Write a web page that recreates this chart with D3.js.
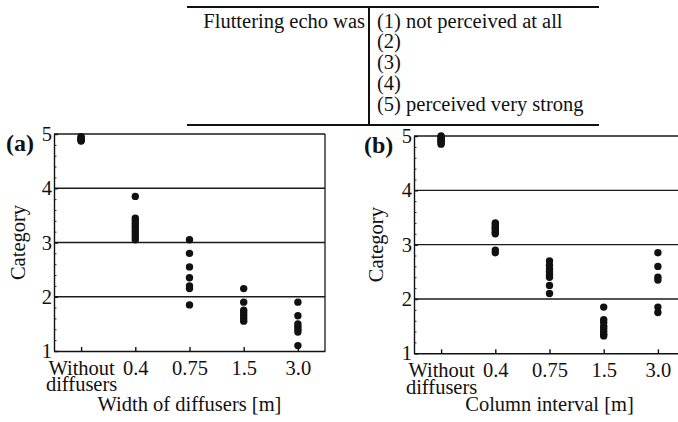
<!DOCTYPE html>
<html><head><meta charset="utf-8">
<script src="https://cdn.jsdelivr.net/npm/d3@7"></script>
<style>body{margin:0;background:#fff} svg text{font-family:"Liberation Serif","Times New Roman",serif}</style>
</head><body><svg id="c" width="678" height="422"></svg>
<script>
// ---- data ----
const categories = ["Without diffusers", "0.4", "0.75", "1.5", "3.0"];
const categoryLines = [["Without", "diffusers"], ["0.4"], ["0.75"], ["1.5"], ["3.0"]];
const yTicks = [1, 2, 3, 4, 5];
const minorTicks = [1.2, 1.4, 1.6, 1.8, 2.2, 2.4, 2.6, 2.8, 3.2, 3.4, 3.6, 3.8, 4.2, 4.4, 4.6, 4.8];
const gridValues = [2, 3, 4, 5];
// (a) Width of diffusers: one list of category scores per condition
const widthScores = [
  [4.95, 4.93, 4.91, 4.9, 4.88, 4.87],
  [3.85, 3.45, 3.4, 3.35, 3.3, 3.25, 3.2, 3.15, 3.1, 3.05],
  [3.05, 2.8, 2.55, 2.35, 2.2, 2.15, 1.85],
  [2.15, 1.9, 1.75, 1.7, 1.65, 1.6, 1.55],
  [1.9, 1.65, 1.5, 1.45, 1.4, 1.35, 1.1]
];
// (b) Column interval
const intervalScores = [
  [5.0, 4.97, 4.95, 4.92, 4.9, 4.87, 4.85],
  [3.4, 3.37, 3.33, 3.3, 3.27, 3.23, 3.2, 2.9, 2.85],
  [2.7, 2.62, 2.55, 2.5, 2.45, 2.4, 2.25, 2.1],
  [1.85, 1.62, 1.57, 1.5, 1.45, 1.4, 1.35, 1.32],
  [2.85, 2.6, 2.4, 2.35, 1.85, 1.75]
];
const legendLead = "Fluttering echo was";
const legendLines = ["(1) not perceived at all", "(2)", "(3)", "(4)", "(5) perceived very strong"];
const panelLabels = ["(a)", "(b)"];
const axisTitles = ["Width of diffusers [m]", "Column interval [m]"];

// ---- layout ----
const svg = d3.select("#c");
const FS = 20.5;
const ink = "#111";

// legend table
const tbl = svg.append("g");
tbl.append("line").attr("x1", 187).attr("x2", 599).attr("y1", 7).attr("y2", 7).attr("stroke", ink).attr("stroke-width", 2);
tbl.append("line").attr("x1", 187).attr("x2", 599).attr("y1", 125).attr("y2", 125).attr("stroke", ink).attr("stroke-width", 2);
tbl.append("line").attr("x1", 369).attr("x2", 369).attr("y1", 7).attr("y2", 125).attr("stroke", ink).attr("stroke-width", 2);
tbl.append("text").attr("x", 365).attr("y", 27.5).attr("text-anchor", "end").attr("font-size", FS).attr("fill", ink).text(legendLead);
tbl.selectAll("text.ll").data(legendLines).join("text").attr("class", "ll")
  .attr("x", 377).attr("y", (d, i) => 27.5 + i * 20.8).attr("font-size", FS).attr("fill", ink).text(d => d);

const panels = [
  { data: widthScores, x0: 54, x1: 325, y0: 134, y1: 351, labX: 6, labY: 151, catX: 25 },
  { data: intervalScores, x0: 414, x1: 685, y0: 136, y1: 353.3, labX: 364, labY: 153, catX: 383 }
];

panels.forEach((p, pi) => {
  const x = d3.scalePoint().domain(categories).range([p.x0, p.x1]).padding(0.5);
  const y = d3.scaleLinear().domain([1, 5]).range([p.y1, p.y0]);
  const g = svg.append("g");

  // grid lines
  g.selectAll("line.grid").data(gridValues).join("line").attr("class", "grid")
    .attr("x1", p.x0).attr("x2", p.x1).attr("y1", d => y(d)).attr("y2", d => y(d))
    .attr("stroke", "#1a1a1a").attr("stroke-width", 1.3);
  // right border
  g.append("line").attr("x1", p.x1).attr("x2", p.x1).attr("y1", p.y0).attr("y2", p.y1)
    .attr("stroke", "#1a1a1a").attr("stroke-width", 1.3);

  // minor ticks
  const minor = g.append("g").attr("transform", `translate(${p.x0},0)`)
    .call(d3.axisLeft(y).tickValues(minorTicks).tickSizeInner(-2.5).tickSizeOuter(0).tickFormat(""));
  minor.select(".domain").remove();
  minor.selectAll("line").attr("stroke", "#333").attr("stroke-width", 1);

  // left axis
  const ya = g.append("g").attr("transform", `translate(${p.x0},0)`)
    .call(d3.axisLeft(y).tickValues(yTicks).tickSizeInner(-4).tickSizeOuter(0).tickPadding(2).tickFormat(d3.format("d")));
  ya.attr("font-family", null).attr("font-size", null);
  ya.selectAll("path,line").attr("stroke", ink).attr("stroke-width", 1.4);
  ya.selectAll("text").attr("font-size", FS).attr("fill", ink);

  // bottom axis
  const xa = g.append("g").attr("transform", `translate(0,${p.y1})`)
    .call(d3.axisBottom(x).tickSizeInner(-4).tickSizeOuter(0).tickPadding(9));
  xa.attr("font-family", null).attr("font-size", null);
  xa.selectAll("path,line").attr("stroke", ink).attr("stroke-width", 1.4);
  xa.selectAll("text").attr("font-size", FS).attr("fill", ink).text(null)
    .each(function (d, i) {
      const t = d3.select(this);
      categoryLines[i].forEach((ln, k) => {
        t.append("tspan").attr("x", 0).attr("dy", k === 0 ? null : "0.82em").text(ln);
      });
    });

  // dots
  p.data.forEach((vals, ci) => {
    g.selectAll(null).data(vals).join("circle")
      .attr("cx", x(categories[ci])).attr("cy", d => y(d)).attr("r", 3.7).attr("fill", ink);
  });

  // panel label
  svg.append("text").attr("x", p.labX).attr("y", p.labY).attr("font-size", 24).attr("font-weight", "bold")
    .attr("fill", ink).text(panelLabels[pi]);
  // y title
  svg.append("text").attr("transform", `translate(${p.catX},${(p.y0 + p.y1) / 2}) rotate(-90)`)
    .attr("text-anchor", "middle").attr("font-size", FS).attr("fill", ink).text("Category");
  // x title
  svg.append("text").attr("x", (p.x0 + p.x1) / 2).attr("y", 411).attr("text-anchor", "middle")
    .attr("font-size", FS).attr("fill", ink).text(axisTitles[pi]);
});
</script>
</body></html>
